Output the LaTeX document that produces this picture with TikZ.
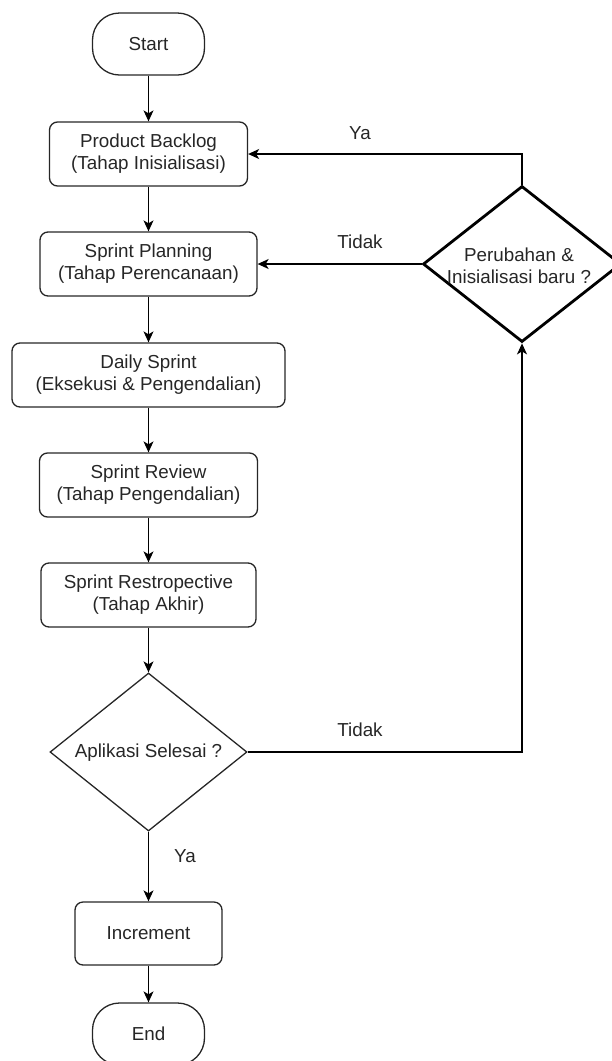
\documentclass[tikz,border=0pt]{standalone}
\usepackage{fontspec}
\setmainfont{Liberation Sans}
\usetikzlibrary{shapes.geometric, arrows.meta}

\begin{document}
\begin{tikzpicture}[x=1pt, y=-1pt,
  every node/.style={font=\fontsize{18.8}{21.8}\selectfont, text=black!85},
  stepbox/.style={draw=black!85, line width=1.3pt, rounded corners=8pt,
    minimum height=64pt, inner sep=0pt, align=center},
  terminal/.style={draw=black!85, line width=1.3pt, rounded corners=27pt,
    minimum width=112pt, minimum height=62pt, inner sep=0pt},
  decision/.style={draw=black!85, shape=diamond, inner sep=0pt},
  flow/.style={draw=black, line width=1.3pt,
    -{Stealth[length=11pt, width=10pt, inset=3pt]}},
  lbl/.style={inner sep=0pt, align=center}]

  \useasboundingbox (0,0) rectangle (612,1061);

  % main column
  \node[terminal] (start) at (148.5,44) {Start};
  \node[stepbox, minimum width=198pt] (backlog) at (148.5,154)
    {Product Backlog\\(Tahap Inisialisasi)};
  \node[stepbox, minimum width=217pt] (planning) at (148.5,264)
    {Sprint Planning\\(Tahap Perencanaan)};
  \node[stepbox, minimum width=273pt] (daily) at (148.5,375)
    {Daily Sprint\\(Eksekusi \& Pengendalian)};
  \node[stepbox, minimum width=218pt] (review) at (148.5,485)
    {Sprint Review\\(Tahap Pengendalian)};
  \node[stepbox, minimum width=215pt] (retro) at (148.5,595)
    {Sprint Restropective\\(Tahap Akhir)};
  \node[decision, line width=1.3pt, minimum width=197pt, minimum height=158pt]
    (done) at (148.5,752) {};
  \node[lbl] (donetext) at (148.5,753) {Aplikasi Selesai ?};
  \node[stepbox, minimum width=147pt, minimum height=63pt] (increment)
    at (148.5,933.5) {Increment};
  \node[terminal] (end) at (148.5,1034) {End};

  % change decision on the right
  \node[decision, draw=black, line width=2.8pt, minimum width=198pt,
    minimum height=156pt] (change) at (522,264) {};
  \node[lbl] (changetext) at (519,266) {Perubahan \&\\Inisialisasi baru ?};

  % connectors
  \draw[flow] (start) -- (backlog);
  \draw[flow] (backlog) -- (planning);
  \draw[flow] (planning) -- (daily);
  \draw[flow] (daily) -- (review);
  \draw[flow] (review) -- (retro);
  \draw[flow] (retro) -- (done);
  \draw[flow] (done) -- (increment);
  \draw[flow] (increment) -- (end);
  \draw[flow] (done.east) -| (change.south);
  \draw[flow] (change.north) |- (backlog.east);
  \draw[flow] (change.west) -- (planning.east);

  % branch labels
  \node[lbl] (yes1) at (360,133) {Ya};
  \node[lbl] (no1) at (360,242) {Tidak};
  \node[lbl] (no2) at (360,730) {Tidak};
  \node[lbl] (yes2) at (185,856) {Ya};
\end{tikzpicture}
\end{document}
